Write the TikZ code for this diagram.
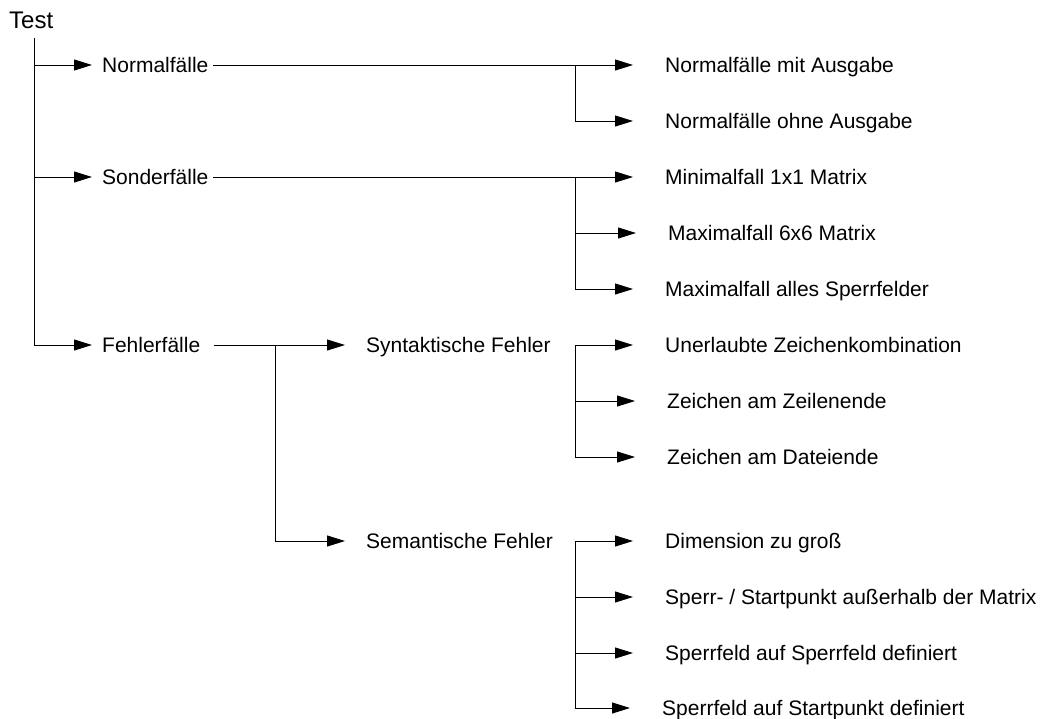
\documentclass[tikz,border=0pt]{standalone}
\usepackage{fontspec}
\setmainfont{Liberation Sans}
\usetikzlibrary{arrows.meta}
\tikzset{
    wurzel/.style={anchor=west, inner sep=0pt, font=\fontsize{24}{28}\selectfont},
    fall/.style={anchor=west, inner sep=0pt, font=\fontsize{21}{25}\selectfont, text height=15.5pt, text depth=1pt},
    linie/.style={line width=1pt},
    pfeil/.style={linie, line cap=rect, -{Triangle[length=18pt,width=11pt]}}}

\begin{document}
\begin{tikzpicture}[x=1pt,y=-1pt]
\useasboundingbox (0,0) rectangle (1043,718);
\coordinate (stamm) at (34,38);
\coordinate (astF) at (275,0);
\coordinate (ast) at (575,0);

\node[wurzel] (test) at (9,20) {Test};

\node[fall] (nf) at (102,65) {Normalfälle};
\node[fall] (sf) at (102,177) {Sonderfälle};
\node[fall] (ff) at (102,345) {Fehlerfälle};
\node[fall] (syn) at (366,345) {Syntaktische Fehler};
\node[fall] (sem) at (366,541) {Semantische Fehler};

\node[fall] (nf1) at (665,65) {Normalfälle mit Ausgabe};
\node[fall] (nf2) at (665,121) {Normalfälle ohne Ausgabe};
\node[fall] (sf1) at (665,177) {Minimalfall 1x1 Matrix};
\node[fall] (sf2) at (668,233) {Maximalfall 6x6 Matrix};
\node[fall] (sf3) at (665,289) {Maximalfall alles Sperrfelder};
\node[fall] (syn1) at (665,345) {Unerlaubte Zeichenkombination};
\node[fall] (syn2) at (667,401) {Zeichen am Zeilenende};
\node[fall] (syn3) at (667,457) {Zeichen am Dateiende};
\node[fall] (sem1) at (665,541) {Dimension zu groß};
\node[fall] (sem2) at (665,597) {Sperr- / Startpunkt außerhalb der Matrix};
\node[fall] (sem3) at (665,653) {Sperrfeld auf Sperrfeld definiert};
\node[fall] (sem4) at (662,708) {Sperrfeld auf Startpunkt definiert};

% Stamm
\draw[linie] (stamm) -- (stamm |- sf.west);
\draw[pfeil, shorten >=10pt] (stamm |- nf.west) -- (nf.west);
\draw[pfeil, shorten >=10pt] (stamm |- sf.west) -- (sf.west);
\draw[pfeil, shorten >=10pt] (stamm |- sf.west) |- (ff.west);

% Normalfaelle
\draw[pfeil, shorten <=5pt, shorten >=32pt] (nf.east) -- (nf1.west);
\draw[pfeil, shorten >=32pt] (ast |- nf1.west) |- (nf2.west);

% Sonderfaelle
\draw[pfeil, shorten <=5pt, shorten >=32pt] (sf.east) -- (sf1.west);
\draw[pfeil, shorten >=32pt] (ast |- sf2.west) -- (sf2.west);
\draw[pfeil, shorten >=32pt] (ast |- sf1.west) |- (sf3.west);

% Fehlerfaelle
\draw[pfeil, shorten <=14pt, shorten >=21pt] (ff.east) -- (syn.west);
\draw[pfeil, shorten >=21pt] (astF |- syn.west) |- (sem.west);

\draw[pfeil, shorten >=32pt] (ast |- syn1.west) -- (syn1.west);
\draw[pfeil, shorten >=32pt] (ast |- syn2.west) -- (syn2.west);
\draw[pfeil, shorten >=32pt] (ast |- syn1.west) |- (syn3.west);

\draw[pfeil, shorten >=32pt] (ast |- sem1.west) -- (sem1.west);
\draw[pfeil, shorten >=32pt] (ast |- sem2.west) -- (sem2.west);
\draw[pfeil, shorten >=32pt] (ast |- sem3.west) -- (sem3.west);
\draw[pfeil, shorten >=32pt] (ast |- sem1.west) |- (sem4.west);
\end{tikzpicture}
\end{document}
